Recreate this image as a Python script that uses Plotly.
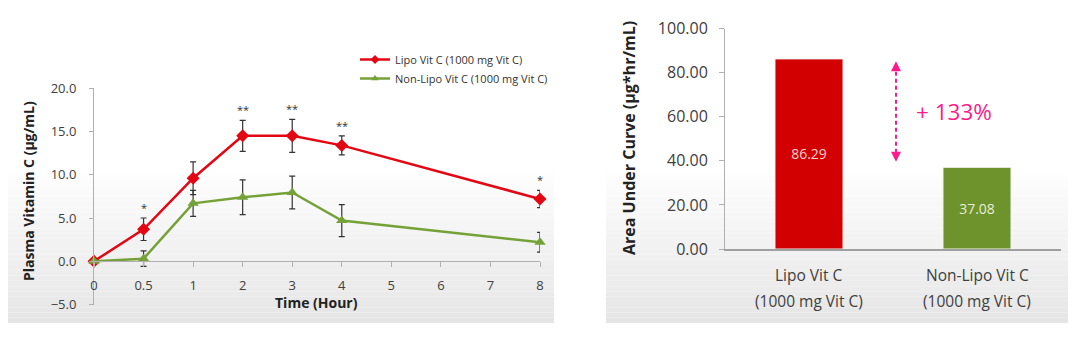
import plotly.graph_objects as go

# ---------------- data ----------------
time_ticks = ["0", "0.5", "1", "2", "3", "4", "5", "6", "7", "8"]
time_points = ["0", "0.5", "1", "2", "3", "4", "8"]
lipo_mean = [0.0, 3.7, 9.6, 14.5, 14.5, 13.4, 7.2]
lipo_err = [0.0, 1.3, 1.9, 1.8, 1.9, 1.1, 1.0]
nonlipo_mean = [0.0, 0.3, 6.7, 7.4, 7.95, 4.7, 2.2]
nonlipo_err = [0.0, 0.9, 1.5, 2.0, 1.9, 1.85, 1.15]
signif = ["", "*", "", "**", "**", "**", "*"]
series_names = ["Lipo Vit C (1000 mg Vit C)", "Non-Lipo Vit C (1000 mg Vit C)"]

auc_groups = ["Lipo Vit C", "Non-Lipo Vit C"]
auc_doses = ["(1000 mg Vit C)", "(1000 mg Vit C)"]
auc_values = [86.29, 37.08]
auc_increase = "+ 133%"

# ---------------- styling ----------------
W, H = 1080, 356
OFF = 8  # page body margin
RED_LINE = "#e30613"
GREEN_LINE = "#75a238"
RED_BAR = "#d20000"
GREEN_BAR = "#6e932c"
MAGENTA = "#ff1a8c"
TXT = "#404040"
FONT = "Open Sans"


def px_x(p):
    return (p - OFF) / W


def px_y(p):
    return 1 - (p - OFF) / H


fig = go.Figure()

fig.add_trace(go.Scatter(
    x=time_points, y=lipo_mean, name=series_names[0],
    mode="lines+markers",
    line=dict(color=RED_LINE, width=2.5),
    marker=dict(symbol="diamond", size=10, color=RED_LINE),
    error_y=dict(type="data", array=lipo_err, color="#333333", thickness=1.2, width=3),
    xaxis="x", yaxis="y", cliponaxis=False, showlegend=False,
))
fig.add_trace(go.Scatter(
    x=time_points, y=nonlipo_mean, name=series_names[1],
    mode="lines+markers",
    line=dict(color=GREEN_LINE, width=2.5),
    marker=dict(symbol="triangle-up", size=10, color=GREEN_LINE),
    error_y=dict(type="data", array=nonlipo_err, color="#333333", thickness=1.2, width=3),
    xaxis="x", yaxis="y", cliponaxis=False, showlegend=False,
))
# legend entries (smaller markers, as in the reference legend)
for nm, col, sym in [(series_names[0], RED_LINE, "diamond"), (series_names[1], GREEN_LINE, "triangle-up")]:
    fig.add_trace(go.Scatter(
        x=[None], y=[None], name=nm, mode="lines+markers",
        line=dict(color=col, width=2.5), marker=dict(symbol=sym, size=7, color=col),
        xaxis="x", yaxis="y", showlegend=True,
    ))

fig.add_trace(go.Bar(
    x=[0, 1], y=auc_values,
    marker=dict(color=[RED_BAR, GREEN_BAR], line=dict(color="#f4f4f4", width=1)),
    width=0.405,
    text=[f"{v:.2f}" for v in auc_values],
    textposition="inside", insidetextanchor="middle",
    textfont=dict(family=FONT, size=14, color=["#f7d2d2", "#e6eed6"]),
    xaxis="x2", yaxis="y2", showlegend=False, hoverinfo="skip",
))

# gradient backgrounds
shapes = []
boxes = [(6, 554), (606, 1068)]
top, bottom = 165, 323
n = 30
for (x0, x1) in boxes:
    for i in range(n):
        y0 = top + (bottom - top) * i / n
        y1 = top + (bottom - top) * (i + 1) / n
        t = (i + 0.5) / n
        g = int(round(255 - 26 * t))
        shapes.append(dict(type="rect", xref="paper", yref="paper",
                           x0=px_x(x0), x1=px_x(x1), y0=px_y(y1), y1=px_y(y0),
                           fillcolor=f"rgb({g},{g},{g})", line=dict(width=0), layer="below"))

# dashed arrow line
shapes.append(dict(type="line", xref="x2", yref="y2", x0=0.518, x1=0.518, y0=40.5, y1=84.5,
                   line=dict(color=MAGENTA, width=2, dash="4px,3px")))

annotations = []
for tp, m, e, s in zip(time_points, lipo_mean, lipo_err, signif):
    if s:
        annotations.append(dict(x=time_ticks.index(tp), y=m + e, xref="x", yref="y", text=s,
                                showarrow=False, xanchor="center", yanchor="bottom", yshift=1,
                                font=dict(family=FONT, size=11, color="#333333")))

# arrow heads
annotations.append(dict(x=0.518, y=85.2, xref="x2", yref="y2", text="", showarrow=True,
                        arrowhead=2, arrowsize=1, arrowwidth=2, arrowcolor=MAGENTA,
                        ax=0, ay=8))
annotations.append(dict(x=0.518, y=39.6, xref="x2", yref="y2", text="", showarrow=True,
                        arrowhead=2, arrowsize=1, arrowwidth=2, arrowcolor=MAGENTA,
                        ax=0, ay=-8))
annotations.append(dict(x=px_x(954), y=px_y(111), xref="paper", yref="paper", text=auc_increase,
                        showarrow=False, xanchor="center", yanchor="middle",
                        font=dict(family=FONT, size=22.5, color=MAGENTA)))

# bar category labels (two lines)
for i, (g, d) in enumerate(zip(auc_groups, auc_doses)):
    annotations.append(dict(x=i, y=px_y(275), xref="x2", yref="paper", text=g, showarrow=False,
                            xanchor="center", yanchor="middle",
                            font=dict(family=FONT, size=15.5, color=TXT)))
    annotations.append(dict(x=i, y=px_y(301), xref="x2", yref="paper", text=d, showarrow=False,
                            xanchor="center", yanchor="middle",
                            font=dict(family=FONT, size=15.5, color=TXT)))

# axis titles
annotations.append(dict(x=px_x(316), y=px_y(302), xref="paper", yref="paper",
                        text="<b>Time (Hour)</b>", showarrow=False,
                        xanchor="center", yanchor="middle",
                        font=dict(family=FONT, size=14, color="#222222")))
annotations.append(dict(x=px_x(28), y=px_y(191), xref="paper", yref="paper",
                        text="<b>Plasma Vitamin C (μg/mL)</b>", showarrow=False, textangle=-90,
                        xanchor="center", yanchor="middle",
                        font=dict(family=FONT, size=14, color="#222222")))
annotations.append(dict(x=px_x(629), y=px_y(138), xref="paper", yref="paper",
                        text="<b>Area Under Curve (μg*hr/mL)</b>", showarrow=False, textangle=-90,
                        xanchor="center", yanchor="middle",
                        font=dict(family=FONT, size=16, color="#222222")))

fig.update_layout(
    template="none",
    width=W, height=H,
    margin=dict(l=0, r=0, t=0, b=0, pad=0),
    paper_bgcolor="white", plot_bgcolor="rgba(0,0,0,0)",
    font=dict(family=FONT, color=TXT),
    shapes=shapes, annotations=annotations,
    showlegend=True,
    legend=dict(x=px_x(355), y=px_y(45), xanchor="left", yanchor="top",
                bgcolor="rgba(0,0,0,0)", font=dict(family=FONT, size=11, color="#333333"),
                itemwidth=30, tracegroupgap=0),
    xaxis=dict(domain=[px_x(94), px_x(540)], type="category",
               categoryorder="array", categoryarray=time_ticks,
               range=[0, 9], anchor="free", position=px_y(261),
               showline=True, linecolor="#b0b0b0", linewidth=1,
               ticks="outside", ticklen=5, tickcolor="#b0b0b0", ticklabelstandoff=7,
               showgrid=False, zeroline=False, automargin=False,
               tickfont=dict(family=FONT, size=13, color=TXT)),
    yaxis=dict(domain=[px_y(304.5), px_y(88.3)], range=[-5, 20],
               tickvals=[-5, 0, 5, 10, 15, 20], tickformat=".1f",
               showline=True, linecolor="#b0b0b0", linewidth=1,
               ticks="outside", ticklen=4, tickcolor="#b0b0b0", ticklabelstandoff=10,
               showgrid=False, zeroline=False, anchor="x", automargin=False,
               tickfont=dict(family=FONT, size=13, color=TXT)),
    xaxis2=dict(domain=[px_x(725), px_x(1061)], range=[-0.5, 1.5],
                tickvals=[0, 1], showticklabels=False,
                showline=True, linecolor="#a0a0a0", linewidth=1.5,
                ticks="", showgrid=False, zeroline=False, anchor="y2", automargin=False),
    yaxis2=dict(domain=[px_y(249), px_y(28.7)], range=[0, 100],
                tickvals=[0, 20, 40, 60, 80, 100], tickformat=".2f",
                showline=True, linecolor="#b0b0b0", linewidth=1,
                ticks="outside", ticklen=5, tickcolor="#b0b0b0", ticklabelstandoff=8,
                showgrid=False, zeroline=False, anchor="x2", automargin=False,
                tickfont=dict(family=FONT, size=16, color=TXT)),
)

fig.write_html("out.html")
